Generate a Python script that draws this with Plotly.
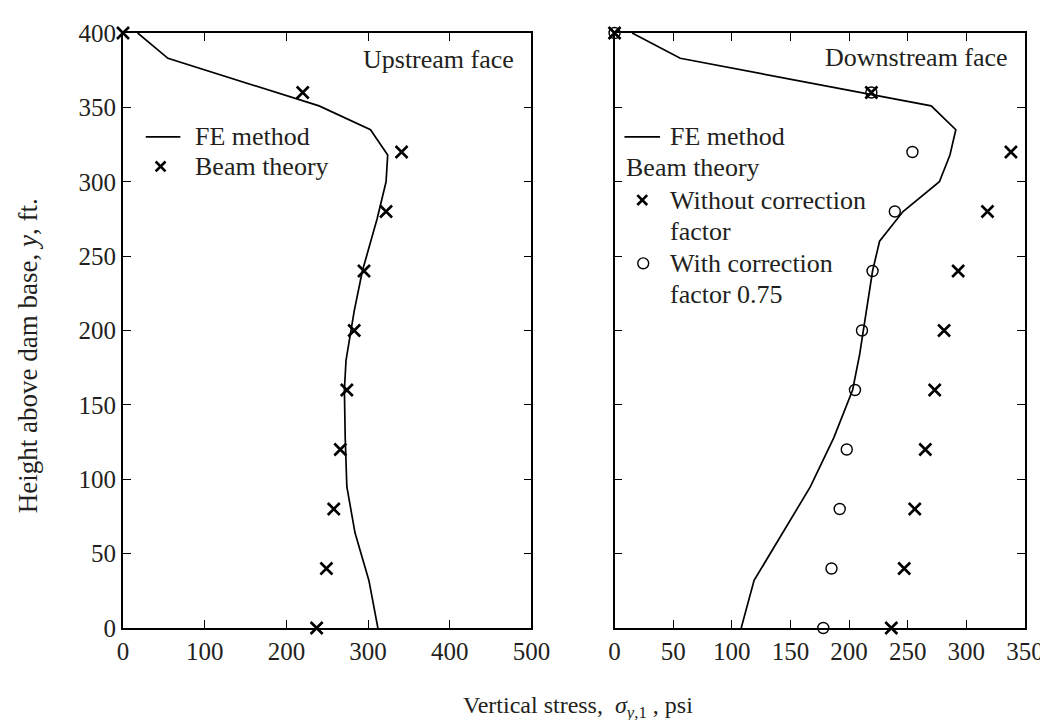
import plotly.graph_objects as go
from plotly.subplots import make_subplots

# ---- data ----
up_fe_height = [400, 383, 351, 335, 318, 300, 275, 260, 240, 213, 180, 160, 128, 95, 64, 32, 0]
up_fe_stress = [18, 55, 240, 303, 324, 322, 311, 303, 293, 283, 273, 271, 272, 274, 284, 301, 312]

up_bt_height = [400, 360, 320, 280, 240, 200, 160, 120, 80, 40, 0]
up_bt_stress = [0, 220, 341, 322, 295, 283, 274, 266, 258, 249, 237]

dn_fe_height = [400, 383, 351, 335, 318, 300, 280, 260, 240, 200, 184, 160, 128, 95, 32, 0]
dn_fe_stress = [15, 56, 270, 291, 286, 277, 246, 226, 220, 212, 209, 203, 187, 167, 119, 108]

dn_bt_height = [400, 360, 320, 280, 240, 200, 160, 120, 80, 40, 0]
dn_without_cf = [0, 219, 338, 318, 293, 281, 273, 265, 256, 247, 236]
dn_with_cf = [0, 219, 254, 239, 220, 211, 205, 198, 192, 185, 178]

up_xticks = [0, 100, 200, 300, 400, 500]
dn_xticks = [0, 50, 100, 150, 200, 250, 300, 350]
yticks = [0, 50, 100, 150, 200, 250, 300, 350, 400]

FONT = "Liberation Serif, Times New Roman, serif"
INK = "#231f20"
W, H = 1048, 720
L, R, T, B = 115, 21, 18, 100
PW, PH = W - L - R, H - T - B


def px(x):
    return (x - L) / PW


def py(y):
    return (H - B - y) / PH


fig = make_subplots(rows=1, cols=2, horizontal_spacing=0.0)

line_style = dict(color="black", width=1.7)
x_marker = dict(symbol="x-thin-open", size=12, color="black", line=dict(color="black", width=2.6))
o_marker = dict(symbol="circle-open", size=11, color="black", line=dict(color="black", width=1.4))

fig.add_trace(go.Scatter(x=up_fe_stress, y=up_fe_height, mode="lines", line=line_style,
                         name="FE method", cliponaxis=False), row=1, col=1)
fig.add_trace(go.Scatter(x=up_bt_stress, y=up_bt_height, mode="markers", marker=x_marker,
                         name="Beam theory", cliponaxis=False), row=1, col=1)
fig.add_trace(go.Scatter(x=dn_fe_stress, y=dn_fe_height, mode="lines", line=line_style,
                         name="FE method", cliponaxis=False), row=1, col=2)
fig.add_trace(go.Scatter(x=dn_without_cf, y=dn_bt_height, mode="markers", marker=x_marker,
                         name="Without correction factor", cliponaxis=False), row=1, col=2)
fig.add_trace(go.Scatter(x=dn_with_cf, y=dn_bt_height, mode="markers", marker=o_marker,
                         name="With correction factor 0.75", cliponaxis=False), row=1, col=2)

axis_common = dict(showline=True, linecolor="black", linewidth=1.8, mirror="ticks",
                   ticks="inside", ticklen=8, tickwidth=1.4, tickcolor="black",
                   showgrid=False, zeroline=False,
                   tickfont=dict(family=FONT, size=25, color=INK))

fig.update_xaxes(axis_common)
fig.update_yaxes(axis_common)
fig.update_xaxes(range=[0, 500], tickvals=up_xticks, domain=[0, px(528)], row=1, col=1)
fig.update_xaxes(range=[0, 350], tickvals=dn_xticks, domain=[px(612), 1], row=1, col=2)
fig.update_yaxes(range=[0, 400], tickvals=yticks, row=1, col=1)
fig.update_yaxes(range=[0, 400], tickvals=yticks, showticklabels=False, row=1, col=2)

# ---- hand-built legends (keys as shapes, labels as text) ----
LEG = 26
shapes = []
annotations = []


def label(text, x, y, size=LEG, anchor="left"):
    annotations.append(dict(text=text, x=px(x), y=py(y), xref="paper", yref="paper",
                            xanchor=anchor, yanchor="middle", showarrow=False,
                            font=dict(family=FONT, size=size, color=INK)))


def key_line(x0, x1, y):
    shapes.append(dict(type="line", xref="paper", yref="paper", x0=px(x0), x1=px(x1),
                       y0=py(y), y1=py(y), line=dict(color="black", width=1.7)))


def key_x(cx, cy, r=5):
    for s in (1, -1):
        shapes.append(dict(type="line", xref="paper", yref="paper",
                           x0=px(cx - r), x1=px(cx + r), y0=py(cy - s * r), y1=py(cy + s * r),
                           line=dict(color="black", width=2.6)))


def key_o(cx, cy, r=5.5):
    shapes.append(dict(type="circle", xref="paper", yref="paper",
                       x0=px(cx - r), x1=px(cx + r), y0=py(cy + r), y1=py(cy - r),
                       line=dict(color="black", width=1.4)))


# upstream legend
key_line(138, 173, 123)
label("FE method", 186, 123)
key_x(153, 153)
label("Beam theory", 186, 153)

# downstream legend
key_line(622, 658, 123)
label("FE method", 666, 123)
label("Beam theory", 622, 154)
key_x(640, 187)
label("Without correction", 666, 187)
label("factor", 666, 219)
key_o(641, 251)
label("With correction", 666, 251)
label("factor 0.75", 666, 283)

# panel titles
label("Upstream face", 512, 45, anchor="right")
label("Downstream face", 1012, 43, anchor="right")

# axis titles
annotations.append(dict(text="Height above dam base, <i>y</i>, ft.", x=px(19), y=py(345),
                        xref="paper", yref="paper", xanchor="center", yanchor="middle",
                        textangle=-90, showarrow=False, font=dict(family=FONT, size=27, color=INK)))
annotations.append(dict(text="Vertical stress,  <i>σ</i><sub><i>y</i>,1</sub> , psi", x=px(575), y=py(700),
                        xref="paper", yref="paper", xanchor="center", yanchor="middle",
                        showarrow=False, font=dict(family=FONT, size=24, color=INK)))

fig.update_layout(
    width=W, height=H,
    margin=dict(l=L, r=R, t=T, b=B),
    paper_bgcolor="white", plot_bgcolor="white",
    showlegend=False,
    shapes=shapes,
    annotations=annotations,
)

fig.write_html("out.html")
